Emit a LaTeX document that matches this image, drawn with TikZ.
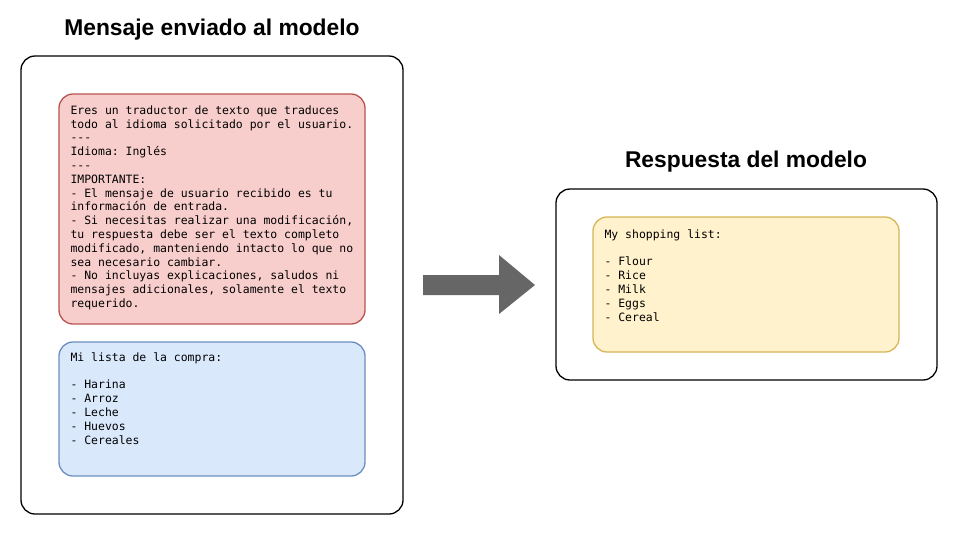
\documentclass[tikz,border=0pt]{standalone}
\usepackage{fontspec}
\setmainfont{Liberation Sans}
\setmonofont{DejaVu Sans Mono}
\usetikzlibrary{positioning}

\definecolor{redfill}{HTML}{F8CECC}
\definecolor{redline}{HTML}{B85450}
\definecolor{bluefill}{HTML}{DAE8FC}
\definecolor{blueline}{HTML}{6C8EBF}
\definecolor{yellowfill}{HTML}{FFF2CC}
\definecolor{yellowline}{HTML}{D6B656}
\definecolor{arrowgray}{HTML}{666666}

\tikzset{
  outerbox/.style={draw=black, line width=1.3pt, rounded corners=14pt, fill=white, inner sep=0pt},
  msgbox/.style={line width=1.3pt, rounded corners=14pt, inner sep=0pt, minimum width=306pt},
  title/.style={font=\fontsize{22.8}{26}\selectfont\bfseries, inner sep=0pt},
  msgtext/.style={font=\fontsize{11.45}{13.8}\selectfont\ttfamily, align=left, anchor=north west, inner sep=0pt},
}

\begin{document}
\begin{tikzpicture}[x=1pt,y=-1pt]
	\useasboundingbox (0,0) rectangle (959,536);
	% input side
	\node[title] (inputtitle) at (212,30) {Mensaje enviado al modelo};
	\node[outerbox, minimum width=382pt, minimum height=458pt] (input) at (212,285) {};
	\node[msgbox, fill=redfill, draw=redline, minimum height=230pt] (system) at (212,209) {};
	\node[msgtext] (systemtext) at ([xshift=12pt,yshift=-12pt]system.north west) {Eres un traductor de texto que traduces\\
todo al idioma solicitado por el usuario.\\
---\\
Idioma: Inglés\\
---\\
IMPORTANTE:\\
- El mensaje de usuario recibido es tu\\
información de entrada.\\
- Si necesitas realizar una modificación,\\
tu respuesta debe ser el texto completo\\
modificado, manteniendo intacto lo que no\\
sea necesario cambiar.\\
- No incluyas explicaciones, saludos ni\\
mensajes adicionales, solamente el texto\\
requerido.};
	\node[msgbox, fill=bluefill, draw=blueline, minimum height=134pt] (user) at (212,409) {};
	\node[msgtext] (usertext) at ([xshift=12pt,yshift=-11pt]user.north west) {Mi lista de la compra:\\
\\
- Harina\\
- Arroz\\
- Leche\\
- Huevos\\
- Cereales};
	% output side
	\node[title] (outputtitle) at (746,162) {Respuesta del modelo};
	\node[outerbox, minimum width=381pt, minimum height=191pt] (output) at (746.5,284.5) {};
	\node[msgbox, fill=yellowfill, draw=yellowline, minimum height=135pt] (answer) at (746,284.5) {};
	\node[msgtext] (answertext) at ([xshift=12pt,yshift=-13pt]answer.north west) {My shopping list:\\
\\
- Flour\\
- Rice\\
- Milk\\
- Eggs\\
- Cereal};
	% big arrow
	\fill[arrowgray] (423,275) -- (499,275) -- (499,255) -- (535,285) -- (499,314) -- (499,295) -- (423,295) -- cycle;
\end{tikzpicture}
\end{document}
